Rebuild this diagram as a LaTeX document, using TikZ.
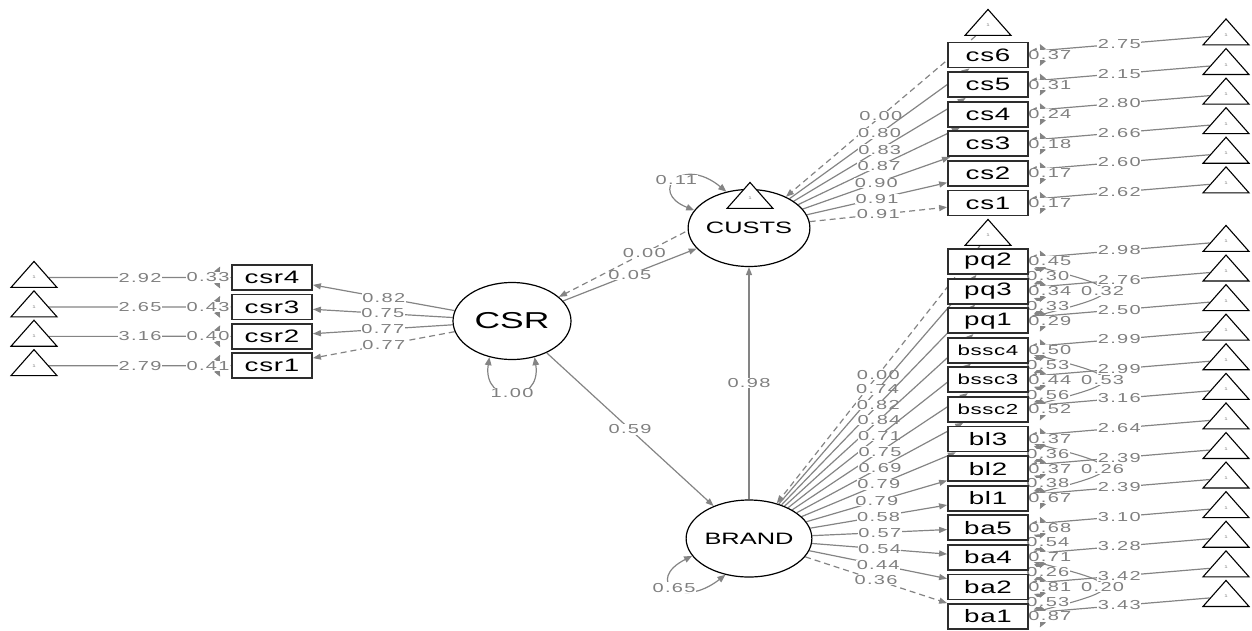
\documentclass[tikz,border=0pt]{standalone}
\usepackage{fontspec}
\usetikzlibrary{shapes.geometric,arrows.meta,calc}
\newfontfamily\labfont{Liberation Sans}[FakeStretch=1.54,LetterSpace=10]
\newfontfamily\boxfont{Liberation Sans}[FakeStretch=1.54,LetterSpace=4]
\newfontfamily\latfont{Liberation Sans}[FakeStretch=1.54]
\definecolor{egray}{RGB}{132,132,132}
\definecolor{tgray}{RGB}{128,128,128}
\definecolor{bdark}{RGB}{45,45,45}
\pgfdeclarelayer{edges}
\pgfsetlayers{edges,main}
\tikzset{
  latent/.style={ellipse, draw=black, line width=1.2pt, fill=white,
    minimum width=118pt, minimum height=77pt, inner sep=0pt,
    font=\latfont\fontsize{16.5}{18}\selectfont},
  manifest/.style={rectangle, draw=bdark, line width=1.8pt, fill=white,
    minimum width=80pt, minimum height=25pt, inner sep=0pt,
    font=\boxfont\fontsize{18}{20}\selectfont},
  normalbox/.style={},
  smallbox/.style={font=\boxfont\fontsize{14.5}{16}\selectfont},
  constant/.style={isosceles triangle, isosceles triangle stretches,
    shape border rotate=90, minimum width=46pt, minimum height=26pt,
    inner sep=0pt, draw=black, line width=1.1pt, fill=white, anchor=apex,
    text=gray, font=\latfont\fontsize{4}{4}\selectfont},
  reg/.style={draw=egray, line width=1.2pt, -{Triangle[length=8pt,width=6pt]}},
  fixpar/.style={dash pattern=on 6pt off 4pt},
  twoway/.style={draw=egray, line width=1.1pt,
    {Triangle[length=7pt,width=6pt]}-{Triangle[length=7pt,width=6pt]}},
  latloop/.style={draw=egray, line width=1.2pt,
    {Triangle[length=8pt,width=6.5pt]}-{Triangle[length=8pt,width=6.5pt]}},
  lbl/.style={font=\labfont\fontsize{13}{14}\selectfont, text=tgray,
    fill=white, inner sep=0.5pt},
}
\begin{document}
\begin{tikzpicture}[x=1pt,y=-1pt]
\useasboundingbox (0,0) rectangle (1252,630);

% latent variables
\node[latent, font=\latfont\fontsize{23}{25}\selectfont] (CSR) at (512,321) {CSR};
\node[latent] (CUSTS) at (749,228) {CUSTS};
\node[latent] (BRAND) at (749,538.5) {BRAND};

% intercept constants of the latent variables
\node[constant] (tcsr) at (750,181) {1};
\node[constant] (tcusts) at (988,8) {1};
\node[constant] (tbrand) at (988,218) {1};

% CSR indicators with their constants
\foreach \n/\y in {csr4/277.5, csr3/306.9, csr2/336.3, csr1/365.7}{
  \node[manifest] (\n) at (272,\y) {\n};
  \node[constant] (t\n) at (34,\y-17.5) {1};
}

% CUSTS and BRAND indicators with their constants
\foreach \n/\y/\s in {cs6/55/normalbox, cs5/84.6/normalbox, cs4/114.2/normalbox,
  cs3/143.7/normalbox, cs2/173.3/normalbox, cs1/202.9/normalbox,
  pq2/261.5/normalbox, pq3/291.1/normalbox, pq1/320.7/normalbox,
  bssc4/350.2/smallbox, bssc3/379.8/smallbox, bssc2/409.4/smallbox,
  bl3/439/normalbox, bl2/468.6/normalbox, bl1/498.1/normalbox,
  ba5/527.7/normalbox, ba4/557.3/normalbox, ba2/586.9/normalbox, ba1/616.5/normalbox}{
  \node[manifest,\s] (\n) at (988,\y) {\n};
  \node[constant] (t\n) at (1226,\y-37.5) {1};
}

\begin{pgfonlayer}{edges}
% structural paths and latent intercepts
\draw[reg] (CSR) -- node[lbl]{0.59} (BRAND);
\draw[reg] (BRAND) -- node[lbl]{0.98} (CUSTS);
\draw[reg] (CSR) -- node[lbl]{0.05} (CUSTS);
\draw[reg,fixpar] (tcsr) -- node[lbl]{0.00} (CSR);
\draw[reg,fixpar] (tcusts) -- node[lbl]{0.00} (CUSTS);
\draw[reg,fixpar] (tbrand) -- node[lbl]{0.00} (BRAND);

% factor loadings
\foreach \n/\v/\s in {csr4/0.82/, csr3/0.75/, csr2/0.77/, csr1/0.77/fixpar}{
  \draw[reg,\s] (CSR) -- node[lbl]{\v} (\n);
}
\foreach \n/\v/\s in {cs6/0.80/, cs5/0.83/, cs4/0.87/, cs3/0.90/, cs2/0.91/, cs1/0.91/fixpar}{
  \draw[reg,\s] (CUSTS) -- node[lbl]{\v} (\n);
}
\foreach \n/\v/\s in {pq2/0.74/, pq3/0.82/, pq1/0.84/, bssc4/0.71/, bssc3/0.75/,
  bssc2/0.69/, bl3/0.79/, bl2/0.79/, bl1/0.58/, ba5/0.57/, ba4/0.54/, ba2/0.44/, ba1/0.36/fixpar}{
  \draw[reg,\s] (BRAND) -- node[lbl]{\v} (\n);
}

% indicator intercepts and residual variances, left block
\foreach \n/\i/\r in {csr4/2.92/0.33, csr3/2.65/0.43, csr2/3.16/0.40, csr1/2.79/0.41}{
  \draw[reg] (t\n) -- node[lbl]{\i} (\n);
  \draw[twoway] ($(\n.west)+(-11,-11)$) .. controls +(-4,8) and +(-4,-8) ..
    node[lbl,xshift=-9pt]{\r} ($(\n.west)+(-11,11)$);
}

% residual covariances, right block
\foreach \na/\nb/\nc/\vab/\vbc/\vac in {pq2/pq3/pq1/0.30/0.33/0.32,
  bssc4/bssc3/bssc2/0.53/0.56/0.53, bl3/bl2/bl1/0.36/0.38/0.26, ba4/ba2/ba1/0.26/0.53/0.20}{
  \draw[twoway] ($(\na.east)+(4,4)$) .. controls ($(\nb.east)+(97,-2)$) and ($(\nb.east)+(97,2)$) ..
    node[lbl]{\vac} ($(\nc.east)+(4,-4)$);
  \draw[twoway] ($(\na.east)+(5,7)$) .. controls +(8,3) and +(8,-3) ..
    node[lbl,xshift=8pt]{\vab} ($(\nb.east)+(5,-7)$);
  \draw[twoway] ($(\nb.east)+(5,7)$) .. controls +(8,3) and +(8,-3) ..
    node[lbl,xshift=8pt]{\vbc} ($(\nc.east)+(5,-7)$);
}
\draw[twoway] ($(ba5.east)+(5,7)$) .. controls +(8,3) and +(8,-3) ..
  node[lbl,xshift=8pt]{0.54} ($(ba4.east)+(5,-7)$);

% indicator intercepts and residual variances, right block
\foreach \n/\i/\r in {cs6/2.75/0.37, cs5/2.15/0.31, cs4/2.80/0.24, cs3/2.66/0.18,
  cs2/2.60/0.17, cs1/2.62/0.17, pq2/2.98/0.45, pq3/2.76/0.34, pq1/2.50/0.29,
  bssc4/2.99/0.50, bssc3/2.99/0.44, bssc2/3.16/0.52, bl3/2.64/0.37, bl2/2.39/0.37,
  bl1/2.39/0.67, ba5/3.10/0.68, ba4/3.28/0.71, ba2/3.42/0.81, ba1/3.43/0.87}{
  \draw[reg] (t\n) -- node[lbl]{\i} (\n);
  \draw[twoway] ($(\n.east)+(11,-11)$) .. controls +(4,8) and +(4,-8) ..
    node[lbl,xshift=7pt]{\r} ($(\n.east)+(11,11)$);
}

% latent variances
\draw[latloop] (CSR.238) .. controls (482,405) and (542,405) .. node[lbl]{1.00} (CSR.302);
\draw[latloop] (CUSTS.162) .. controls (648,192) and (682,155) .. node[lbl]{0.11} (CUSTS.122);
\draw[latloop] (BRAND.197) .. controls (645,580) and (680,610) .. node[lbl]{0.65} (BRAND.237);
\end{pgfonlayer}
\end{tikzpicture}
\end{document}
